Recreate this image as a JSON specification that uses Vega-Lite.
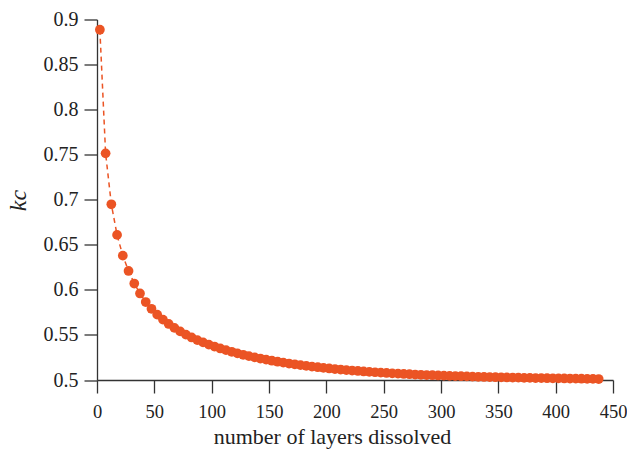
{
  "$schema": "https://vega.github.io/schema/vega-lite/v6.json",
  "width": 516,
  "height": 360.5,
  "autosize": "none",
  "padding": {"left": 97, "top": 19.5, "right": 14, "bottom": 72},
  "background": "white",
  "config": {
    "view": {"stroke": null},
    "font": "Liberation Serif"
  },
  "data": {
    "values": [
      {"layers": 2.5, "kc": 0.8887}, {"layers": 7.5, "kc": 0.7515}, {"layers": 12.5, "kc": 0.695}, {"layers": 17.5, "kc": 0.661},
      {"layers": 22.5, "kc": 0.638}, {"layers": 27.5, "kc": 0.621}, {"layers": 32.5, "kc": 0.607}, {"layers": 37.5, "kc": 0.596},
      {"layers": 42.5, "kc": 0.5865}, {"layers": 47.5, "kc": 0.579}, {"layers": 52.5, "kc": 0.5725}, {"layers": 57.5, "kc": 0.567},
      {"layers": 62.5, "kc": 0.5622}, {"layers": 67.5, "kc": 0.5578}, {"layers": 72.5, "kc": 0.5539}, {"layers": 77.5, "kc": 0.5504},
      {"layers": 82.5, "kc": 0.5472}, {"layers": 87.5, "kc": 0.5443}, {"layers": 92.5, "kc": 0.5417}, {"layers": 97.5, "kc": 0.5393},
      {"layers": 102.5, "kc": 0.5371}, {"layers": 107.5, "kc": 0.535}, {"layers": 112.5, "kc": 0.5331}, {"layers": 117.5, "kc": 0.5313},
      {"layers": 122.5, "kc": 0.5296}, {"layers": 127.5, "kc": 0.528}, {"layers": 132.5, "kc": 0.5265}, {"layers": 137.5, "kc": 0.5251},
      {"layers": 142.5, "kc": 0.5238}, {"layers": 147.5, "kc": 0.5226}, {"layers": 152.5, "kc": 0.5214}, {"layers": 157.5, "kc": 0.5203},
      {"layers": 162.5, "kc": 0.5193}, {"layers": 167.5, "kc": 0.5183}, {"layers": 172.5, "kc": 0.5174}, {"layers": 177.5, "kc": 0.5165},
      {"layers": 182.5, "kc": 0.5157}, {"layers": 187.5, "kc": 0.5149}, {"layers": 192.5, "kc": 0.5142}, {"layers": 197.5, "kc": 0.5135},
      {"layers": 202.5, "kc": 0.5128}, {"layers": 207.5, "kc": 0.5122}, {"layers": 212.5, "kc": 0.5116}, {"layers": 217.5, "kc": 0.511},
      {"layers": 222.5, "kc": 0.5105}, {"layers": 227.5, "kc": 0.51}, {"layers": 232.5, "kc": 0.5095}, {"layers": 237.5, "kc": 0.509},
      {"layers": 242.5, "kc": 0.5086}, {"layers": 247.5, "kc": 0.5082}, {"layers": 252.5, "kc": 0.5078}, {"layers": 257.5, "kc": 0.5074},
      {"layers": 262.5, "kc": 0.5071}, {"layers": 267.5, "kc": 0.5067}, {"layers": 272.5, "kc": 0.5064}, {"layers": 277.5, "kc": 0.5061},
      {"layers": 282.5, "kc": 0.5058}, {"layers": 287.5, "kc": 0.5055}, {"layers": 292.5, "kc": 0.5053}, {"layers": 297.5, "kc": 0.505},
      {"layers": 302.5, "kc": 0.5048}, {"layers": 307.5, "kc": 0.5046}, {"layers": 312.5, "kc": 0.5044}, {"layers": 317.5, "kc": 0.5042},
      {"layers": 322.5, "kc": 0.504}, {"layers": 327.5, "kc": 0.5038}, {"layers": 332.5, "kc": 0.5036}, {"layers": 337.5, "kc": 0.5034},
      {"layers": 342.5, "kc": 0.5033}, {"layers": 347.5, "kc": 0.5031}, {"layers": 352.5, "kc": 0.503}, {"layers": 357.5, "kc": 0.5028},
      {"layers": 362.5, "kc": 0.5027}, {"layers": 367.5, "kc": 0.5026}, {"layers": 372.5, "kc": 0.5024}, {"layers": 377.5, "kc": 0.5023},
      {"layers": 382.5, "kc": 0.5022}, {"layers": 387.5, "kc": 0.5021}, {"layers": 392.5, "kc": 0.502}, {"layers": 397.5, "kc": 0.5019},
      {"layers": 402.5, "kc": 0.5018}, {"layers": 407.5, "kc": 0.5017}, {"layers": 412.5, "kc": 0.5016}, {"layers": 417.5, "kc": 0.5015},
      {"layers": 422.5, "kc": 0.5014}, {"layers": 427.5, "kc": 0.5013}, {"layers": 432.5, "kc": 0.5012}, {"layers": 437.5, "kc": 0.5011}
    ]
  },
  "encoding": {
    "x": {
      "field": "layers",
      "type": "quantitative",
      "scale": {"domain": [0, 450], "nice": false, "zero": false},
      "axis": {
        "title": "number of layers dissolved",
        "values": [0, 50, 100, 150, 200, 250, 300, 350, 400, 450],
        "grid": false,
        "domainColor": "#333333",
        "domainWidth": 1.3,
        "tickColor": "#333333",
        "tickWidth": 1.3,
        "tickSize": 13,
        "labelFont": "Liberation Serif",
        "labelFontSize": 18.5,
        "labelColor": "#222222",
        "labelPadding": 9,
        "labelFlush": false,
        "titleFont": "Liberation Serif",
        "titleFontSize": 22,
        "titleFontWeight": "normal",
        "titleColor": "#222222",
        "titleX": 235,
        "titleY": 63,
        "titleAlign": "center",
        "titleBaseline": "alphabetic"
      }
    },
    "y": {
      "field": "kc",
      "type": "quantitative",
      "scale": {"domain": [0.5, 0.9], "nice": false, "zero": false},
      "axis": {
        "title": "kc",
        "values": [0.5, 0.55, 0.6, 0.65, 0.7, 0.75, 0.8, 0.85, 0.9],
        "format": ".2~f",
        "grid": false,
        "domainColor": "#333333",
        "domainWidth": 1.3,
        "tickColor": "#333333",
        "tickWidth": 1.3,
        "tickSize": 13,
        "labelFont": "Liberation Serif",
        "labelFontSize": 20,
        "labelColor": "#222222",
        "labelPadding": 6,
        "labelFlush": false,
        "titleFont": "Liberation Serif",
        "titleFontSize": 24,
        "titleFontStyle": "italic",
        "titleFontWeight": "normal",
        "titleColor": "#222222",
        "titleAngle": -90,
        "titleX": -72,
        "titleY": 180.5,
        "titleAlign": "center",
        "titleBaseline": "alphabetic"
      }
    }
  },
  "layer": [
    {
      "mark": {"type": "line", "color": "#eb5424", "strokeWidth": 1.5, "strokeDash": [5, 4]}
    },
    {
      "mark": {"type": "circle", "color": "#eb5424", "opacity": 1, "size": 95}
    }
  ]
}
